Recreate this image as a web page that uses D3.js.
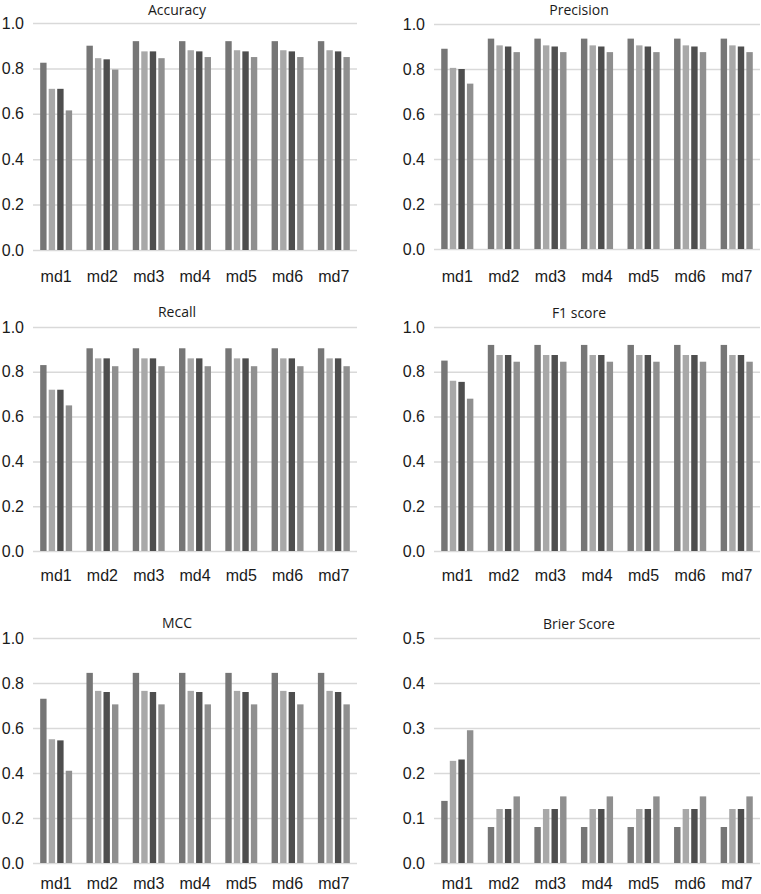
<!DOCTYPE html>
<html><head><meta charset="utf-8">
<script src="https://cdn.jsdelivr.net/npm/d3@7"></script>
<style>body{margin:0;background:#fff}svg{display:block}</style>
</head><body>
<script>
const categories = ["md1","md2","md3","md4","md5","md6","md7"];
const seriesNames = ["s1","s2","s3","s4"];
const seriesColors = ["#767676","#a8a8a8","#4e4e4e","#8f8f8f"];

const accuracy  = [[0.825,0.71,0.71,0.615],[0.90,0.845,0.84,0.795],[0.92,0.875,0.875,0.845],[0.92,0.88,0.875,0.85],[0.92,0.88,0.875,0.85],[0.92,0.88,0.875,0.85],[0.92,0.88,0.875,0.85]];
const precision = [[0.89,0.805,0.80,0.735],[0.935,0.905,0.90,0.875],[0.935,0.905,0.90,0.875],[0.935,0.905,0.90,0.875],[0.935,0.905,0.90,0.875],[0.935,0.905,0.90,0.875],[0.935,0.905,0.90,0.875]];
const recall    = [[0.83,0.72,0.72,0.65],[0.905,0.86,0.86,0.825],[0.905,0.86,0.86,0.825],[0.905,0.86,0.86,0.825],[0.905,0.86,0.86,0.825],[0.905,0.86,0.86,0.825],[0.905,0.86,0.86,0.825]];
const f1score   = [[0.85,0.76,0.755,0.68],[0.92,0.875,0.875,0.845],[0.92,0.875,0.875,0.845],[0.92,0.875,0.875,0.845],[0.92,0.875,0.875,0.845],[0.92,0.875,0.875,0.845],[0.92,0.875,0.875,0.845]];
const mcc       = [[0.73,0.55,0.545,0.41],[0.845,0.765,0.76,0.705],[0.845,0.765,0.76,0.705],[0.845,0.765,0.76,0.705],[0.845,0.765,0.76,0.705],[0.845,0.765,0.76,0.705],[0.845,0.765,0.76,0.705]];
const brier     = [[0.138,0.227,0.23,0.295],[0.08,0.12,0.12,0.148],[0.08,0.12,0.12,0.148],[0.08,0.12,0.12,0.148],[0.08,0.12,0.12,0.148],[0.08,0.12,0.12,0.148],[0.08,0.12,0.12,0.148]];

const ticks1 = [0,0.2,0.4,0.6,0.8,1.0];
const ticksB = [0,0.1,0.2,0.3,0.4,0.5];

const panels = [
  {title:"Accuracy",  data:accuracy,  max:1.0, ticks:ticks1, x0:33,  x1:357, y0:250, y1:23,  ty:15,  ly:276},
  {title:"Precision", data:precision, max:1.0, ticks:ticks1, x0:434, x1:760, y0:249, y1:24,  ty:15,  ly:276},
  {title:"Recall",    data:recall,    max:1.0, ticks:ticks1, x0:33,  x1:357, y0:551, y1:327, ty:317, ly:575},
  {title:"F1 score",  data:f1score,   max:1.0, ticks:ticks1, x0:434, x1:760, y0:551, y1:327, ty:318, ly:575},
  {title:"MCC",       data:mcc,       max:1.0, ticks:ticks1, x0:33,  x1:357, y0:863, y1:638, ty:628, ly:883},
  {title:"Brier Score",data:brier,    max:0.5, ticks:ticksB, x0:434, x1:760, y0:863, y1:638, ty:629, ly:883}
];

const svg = d3.select("body").append("svg").attr("width",761).attr("height",894)
  .style("font-family","'Open Sans', sans-serif");

panels.forEach(p => {
  const g = svg.append("g");
  const x = d3.scaleBand().domain(categories).range([p.x0,p.x1]).paddingInner(0.31).paddingOuter(0.155);
  const xi = d3.scaleBand().domain(seriesNames).range([0,x.bandwidth()]).paddingInner(0.25).paddingOuter(0);
  const y = d3.scaleLinear().domain([0,p.max]).range([p.y0,p.y1]);

  const yAxis = d3.axisLeft(y).tickValues(p.ticks).tickFormat(d3.format(".1f")).tickSize(-(p.x1-p.x0)).tickPadding(9);
  const ya = g.append("g").attr("transform",`translate(${p.x0},0)`).call(yAxis);
  ya.select(".domain").remove();
  ya.selectAll(".tick line").attr("stroke","#d9d9d9").attr("stroke-width",1.5);
  ya.selectAll(".tick text").attr("fill","#1a1a1a").style("font-size","16px");

  const grp = g.selectAll(".grp").data(p.data).join("g")
    .attr("transform",(d,i)=>`translate(${x(categories[i])},0)`);
  grp.selectAll("rect").data(d=>d).join("rect")
    .attr("x",(d,j)=>xi(seriesNames[j]))
    .attr("width",xi.bandwidth())
    .attr("y",d=>y(d))
    .attr("height",d=>y(0)-y(d))
    .attr("fill",(d,j)=>seriesColors[j]);

  const xAxis = d3.axisBottom(x).tickSize(0).tickPadding(0);
  const xa = g.append("g").attr("transform",`translate(0,${p.ly})`).call(xAxis);
  xa.select(".domain").remove();
  xa.selectAll(".tick text").attr("dy","0.35em").attr("fill","#1a1a1a").style("font-size","16px");

  g.append("text").attr("x",(p.x0+p.x1)/2-18).attr("y",p.ty)
    .attr("text-anchor","middle").attr("fill","#1a1a1a").style("font-size","14px").text(p.title);
});
</script>
</body></html>
